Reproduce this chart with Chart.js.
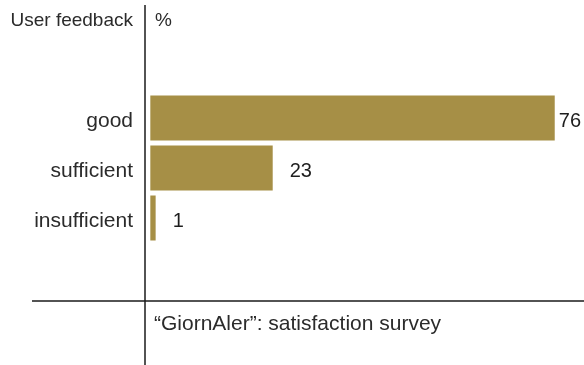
<!DOCTYPE html>
<html>
<head>
<meta charset="utf-8">
<script src="https://cdn.jsdelivr.net/npm/chart.js@4/dist/chart.umd.min.js"></script>
<style>
  html, body { margin: 0; padding: 0; background: #fff; }
  #wrap { width: 584px; height: 365px; position: relative; }
</style>
</head>
<body>
<div id="wrap"><canvas id="c" width="584" height="365"></canvas></div>
<script>
const categories = ["good", "sufficient", "insufficient"];
const values = [76, 23, 1];
const axisTitle = "User feedback";
const unitLabel = "%";
const sourceNote = "\u201cGiornAler\u201d: satisfaction survey";

const FONT = "'Liberation Sans', Arial, Helvetica, sans-serif";
const TEXT = "#2b2b2b";
const BAR = "#a68f46";

const decorations = {
  id: "decorations",
  afterDraw(chart) {
    const ctx = chart.ctx;
    const area = chart.chartArea;
    ctx.save();
    // axis lines
    ctx.strokeStyle = "#1a1a1a";
    ctx.lineWidth = 1.5;
    ctx.beginPath();
    ctx.moveTo(area.left, 5);
    ctx.lineTo(area.left, chart.height);
    ctx.stroke();
    const baseY = area.bottom + 58;
    ctx.beginPath();
    ctx.moveTo(32, baseY);
    ctx.lineTo(chart.width, baseY);
    ctx.stroke();

    ctx.fillStyle = TEXT;
    ctx.textBaseline = "middle";
    // header
    ctx.font = "19px " + FONT;
    ctx.textAlign = "right";
    ctx.fillText(axisTitle, area.left - 12, 21);
    ctx.textAlign = "left";
    ctx.fillText(unitLabel, area.left + 10, 21);
    // footer
    ctx.font = "21px " + FONT;
    ctx.fillText(sourceNote, area.left + 9, baseY + 23);

    // value labels
    const meta = chart.getDatasetMeta(0);
    ctx.font = "20px " + FONT;
    ctx.fillStyle = "#1e1e1e";
    meta.data.forEach((bar, i) => {
      const txt = String(values[i]);
      const w = ctx.measureText(txt).width;
      const x = Math.min(bar.x + 17, chart.width - w - 3);
      ctx.fillText(txt, x, bar.y + 3);
    });
    ctx.restore();
  }
};

new Chart(document.getElementById("c"), {
  type: "bar",
  data: {
    labels: categories,
    datasets: [{
      data: values,
      backgroundColor: BAR,
      borderWidth: 0,
      categoryPercentage: 1,
      barPercentage: 0.9
    }]
  },
  options: {
    indexAxis: "y",
    responsive: false,
    animation: false,
    layout: { padding: { top: 93, bottom: 122, left: 0, right: 0 } },
    plugins: { legend: { display: false }, tooltip: { enabled: false } },
    scales: {
      x: { display: false, min: -1, max: 81.5 },
      y: {
        grid: { display: false },
        border: { display: false },
        ticks: { color: TEXT, font: { family: FONT, size: 21 }, padding: 4, labelOffset: 3 },
        afterFit(scale) { scale.width = 145; }
      }
    }
  },
  plugins: [decorations]
});
</script>
</body>
</html>
